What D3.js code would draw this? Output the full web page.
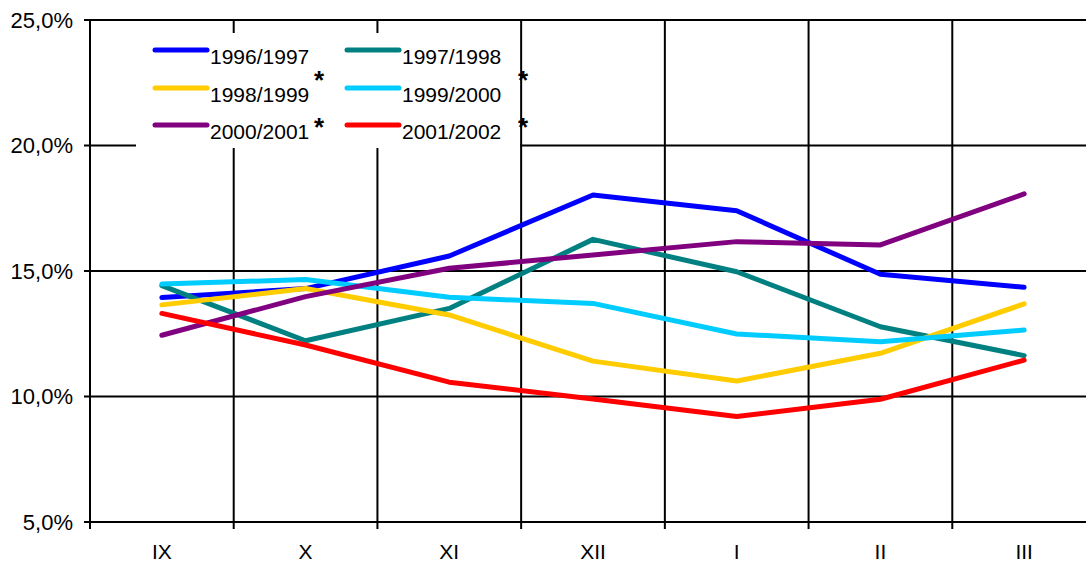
<!DOCTYPE html>
<html><head><meta charset="utf-8">
<script src="https://cdn.jsdelivr.net/npm/d3@7"></script>
<style>body{margin:0;background:#fff}svg{display:block}text{font-family:"Liberation Sans",Arial,sans-serif}</style>
</head><body>
<script>
const categories = ["IX","X","XI","XII","I","II","III"];
const seriesNames = ["1996/1997","1997/1998","1998/1999","1999/2000","2000/2001","2001/2002"];
const seriesColors = ["#0000FF","#008080","#FFCC00","#00CCFF","#800080","#FF0000"];
const s1996 = [13.94, 14.30, 15.60, 18.03, 17.40, 14.87, 14.35];
const s1997 = [14.42, 12.22, 13.51, 16.26, 14.97, 12.78, 11.63];
const s1998 = [13.65, 14.30, 13.25, 11.41, 10.62, 11.72, 13.69];
const s1999 = [14.48, 14.66, 13.95, 13.71, 12.49, 12.18, 12.65];
const s2000 = [12.44, 13.98, 15.11, 15.64, 16.17, 16.04, 18.07];
const s2001 = [13.31, 12.05, 10.57, 9.90, 9.20, 9.89, 11.45];
const yTicks = [5, 10, 15, 20, 25];
const seriesValues = [s1996, s1997, s1998, s1999, s2000, s2001];

const W = 1086, H = 565;
const svg = d3.select("body").append("svg").attr("width", W).attr("height", H);
const x = d3.scaleBand().domain(categories).range([90, 1096]);
const y = d3.scaleLinear().domain([5, 25]).range([522, 20]);
const locale = d3.formatLocale({decimal: ",", thousands: ".", grouping: [3], currency: ["", ""]});
const fmt = v => locale.format(".1f")(v) + "%";

// vertical gridlines at category boundaries
const bounds = categories.map(c => x(c)).slice(1);
svg.append("g").selectAll("line").data(bounds).join("line")
  .attr("x1", d => d).attr("x2", d => d).attr("y1", y(25)).attr("y2", y(5) + 7)
  .attr("stroke", "#000").attr("stroke-width", 2);
// horizontal gridlines
svg.append("g").selectAll("line").data(yTicks).join("line")
  .attr("x1", 84).attr("x2", W).attr("y1", d => y(d)).attr("y2", d => y(d))
  .attr("stroke", "#000").attr("stroke-width", 2);
// left axis
svg.append("line").attr("x1", 90).attr("x2", 90).attr("y1", y(25)).attr("y2", y(5) + 7)
  .attr("stroke", "#000").attr("stroke-width", 2);

// y labels
svg.append("g").selectAll("text").data(yTicks).join("text")
  .attr("x", 73).attr("y", d => y(d)).attr("dy", "0.36em")
  .attr("text-anchor", "end").attr("font-size", 22).attr("fill", "#000")
  .text(fmt);
// x labels
svg.append("g").selectAll("text").data(categories).join("text")
  .attr("x", d => x(d) + x.bandwidth() / 2).attr("y", 559)
  .attr("text-anchor", "middle").attr("font-size", 21).attr("fill", "#000")
  .text(d => d);

// legend background (covers gridlines)
svg.append("rect").attr("x", 136).attr("y", 33).attr("width", 384).attr("height", 115).attr("fill", "#fff");

// lines
const line = d3.line().x((d, i) => x(categories[i]) + x.bandwidth() / 2).y(d => y(d));
svg.append("g").selectAll("path").data(seriesValues).join("path")
  .attr("d", line).attr("fill", "none")
  .attr("stroke", (d, i) => seriesColors[i]).attr("stroke-width", 5)
  .attr("stroke-linejoin", "round").attr("stroke-linecap", "round");

// legend
const rowsY = [50, 88, 125];
const colX = [155, 347];
const lg = svg.append("g");
seriesNames.forEach((name, i) => {
  const cx = colX[i % 2], cy = rowsY[Math.floor(i / 2)];
  lg.append("line").attr("x1", cx).attr("x2", cx + 52).attr("y1", cy).attr("y2", cy)
    .attr("stroke", seriesColors[i]).attr("stroke-width", 5).attr("stroke-linecap", "round");
  lg.append("text").attr("x", cx + 55).attr("y", cy + 14).attr("font-size", 21).attr("fill", "#000").text(name);
});
// asterisks
const starPos = [[319, 76], [319, 123], [523, 76], [523, 123]];
svg.append("g").selectAll("text").data(starPos).join("text")
  .attr("x", d => d[0]).attr("y", d => d[1] + 13).attr("text-anchor", "middle")
  .attr("font-size", 26).attr("font-weight", "bold").attr("fill", "#000").text("*");
</script>
</body></html>
